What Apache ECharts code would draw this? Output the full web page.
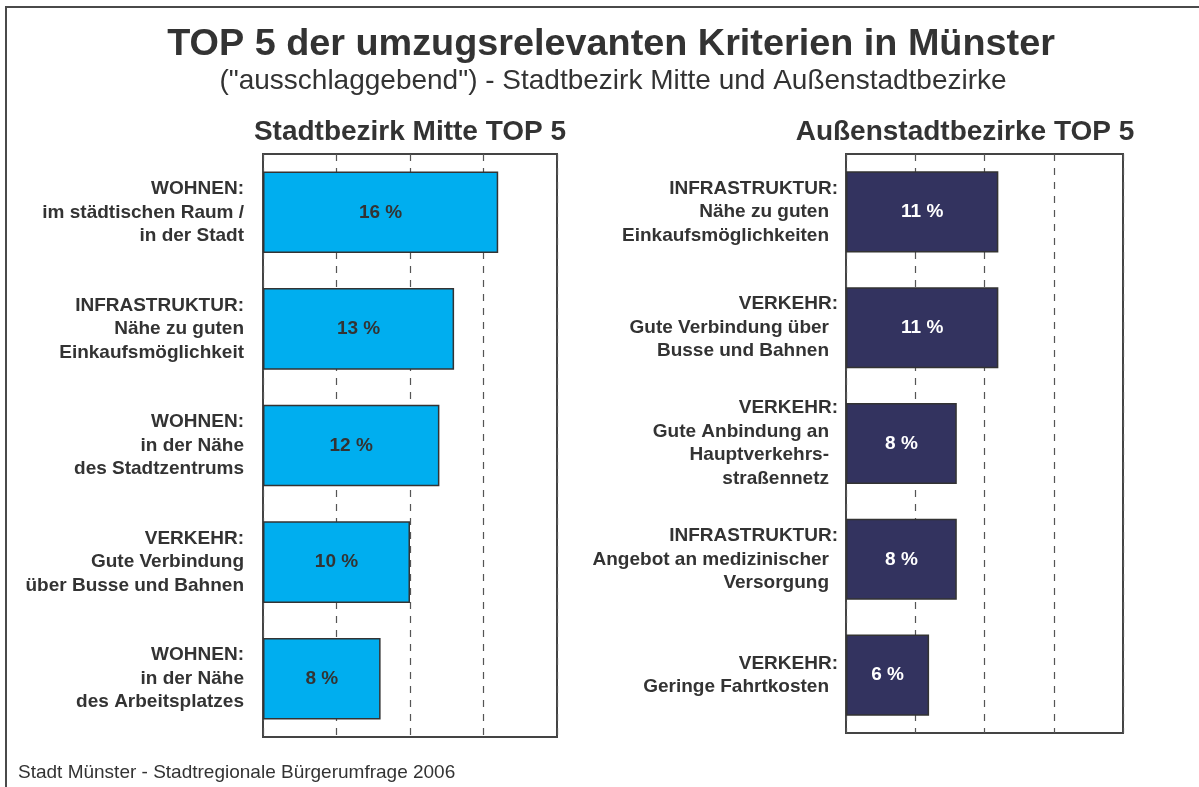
<!DOCTYPE html>
<html>
<head>
<meta charset="utf-8">
<script src="https://cdn.jsdelivr.net/npm/echarts@6/dist/echarts.min.js"></script>
<style>
  html, body { margin: 0; padding: 0; background: #ffffff; }
  #chart { width: 1199px; height: 787px; }
</style>
</head>
<body>
<div id="chart"></div>
<script>
// Stadtbezirk Mitte – top 5 criteria (share in %)
const mitteCategories = [
  'WOHNEN:\nim städtischen Raum /\nin der Stadt',
  'INFRASTRUKTUR:\nNähe zu guten\nEinkaufsmöglichkeit',
  'WOHNEN:\nin der Nähe\ndes Stadtzentrums',
  'VERKEHR:\nGute Verbindung\nüber Busse und Bahnen',
  'WOHNEN:\nin der Nähe\ndes Arbeitsplatzes'
];
const mitteValues = [16, 13, 12, 10, 8];

// Außenstadtbezirke – top 5 criteria (share in %)
const aussenCategories = [
  'INFRASTRUKTUR:\nNähe zu guten\nEinkaufsmöglichkeiten',
  'VERKEHR:\nGute Verbindung über\nBusse und Bahnen',
  'VERKEHR:\nGute Anbindung an\nHauptverkehrs-\nstraßennetz',
  'INFRASTRUKTUR:\nAngebot an medizinischer\nVersorgung',
  'VERKEHR:\nGeringe Fahrtkosten'
];
const aussenValues = [11, 11, 8, 8, 6];

const FONT = '"Liberation Sans", Arial, Helvetica, sans-serif';
const TEXT = '#333333';

function labelFormatter(v) {
  return v.split('\n').map((line, i) => (i === 0 ? '{h|' + line + '}' : '{b|' + line + '}')).join('\n');
}

function labelRich(bodyPad) {
  const base = { fontFamily: FONT, fontSize: 19, fontWeight: 'bold', color: TEXT, lineHeight: 23.5 };
  return {
    h: Object.assign({}, base),
    b: Object.assign({}, base, { padding: [0, bodyPad, 0, 0] })
  };
}

function valueAxis(gridIndex) {
  return {
    type: 'value', gridIndex: gridIndex, min: 0, max: 20, interval: 5,
    axisLabel: { show: false }, axisTick: { show: false }, axisLine: { show: false },
    splitLine: { show: true, lineStyle: { color: '#555555', width: 1.2, type: [7, 7] } }
  };
}

function categoryAxis(gridIndex, data, margin, bodyPad) {
  return {
    type: 'category', gridIndex: gridIndex, data: data, inverse: true,
    axisLine: { show: false }, axisTick: { show: false },
    axisLabel: { margin: margin, align: 'right', formatter: labelFormatter, rich: labelRich(bodyPad) }
  };
}

function barSeries(idx, values, color, labelColor) {
  return {
    type: 'bar', xAxisIndex: idx, yAxisIndex: idx, data: values,
    barCategoryGap: '30%',
    itemStyle: { color: color, borderColor: '#333333', borderWidth: 1.5 },
    label: {
      show: true, position: 'inside', formatter: '{c} %',
      fontFamily: FONT, fontSize: 19, fontWeight: 'bold', color: labelColor
    },
    silent: true
  };
}

function heading(text, x, y, size, weight, align) {
  return {
    text: text, left: x, top: y, padding: 0, textAlign: align,
    textStyle: { fontFamily: FONT, fontSize: size, fontWeight: weight, color: TEXT }
  };
}

const chart = echarts.init(document.getElementById('chart'), null, { renderer: 'canvas' });

chart.setOption({
  animation: false,
  backgroundColor: '#ffffff',
  title: [
    heading('TOP 5 der umzugsrelevanten Kriterien in Münster', 611, 26, 37.8, 'bold', 'center'),
    heading('("ausschlaggebend") - Stadtbezirk Mitte und Außenstadtbezirke', 613, 67, 28, 'normal', 'center'),
    heading('Stadtbezirk Mitte TOP 5', 410, 118, 28, 'bold', 'center'),
    heading('Außenstadtbezirke TOP 5', 965, 118, 28, 'bold', 'center'),
    heading('Stadt Münster - Stadtregionale Bürgerumfrage 2006', 18, 763, 19, 'normal', 'left')
  ],
  grid: [
    { left: 263, top: 154, width: 294, height: 583, show: true, borderColor: '#444444', borderWidth: 2, backgroundColor: 'transparent' },
    { left: 846, top: 154, width: 277, height: 579, show: true, borderColor: '#444444', borderWidth: 2, backgroundColor: 'transparent' }
  ],
  xAxis: [valueAxis(0), valueAxis(1)],
  yAxis: [
    categoryAxis(0, mitteCategories, 19, 0),
    categoryAxis(1, aussenCategories, 8, 9)
  ],
  series: [
    barSeries(0, mitteValues, '#00aeef', TEXT),
    barSeries(1, aussenValues, '#33335f', '#ffffff')
  ],
  graphic: [
    { type: 'rect', silent: true, z: 100,
      shape: { x: 6, y: 7, width: 1400, height: 1000 },
      style: { fill: 'none', stroke: '#4a4a4a', lineWidth: 2 } }
  ]
});
</script>
</body>
</html>
